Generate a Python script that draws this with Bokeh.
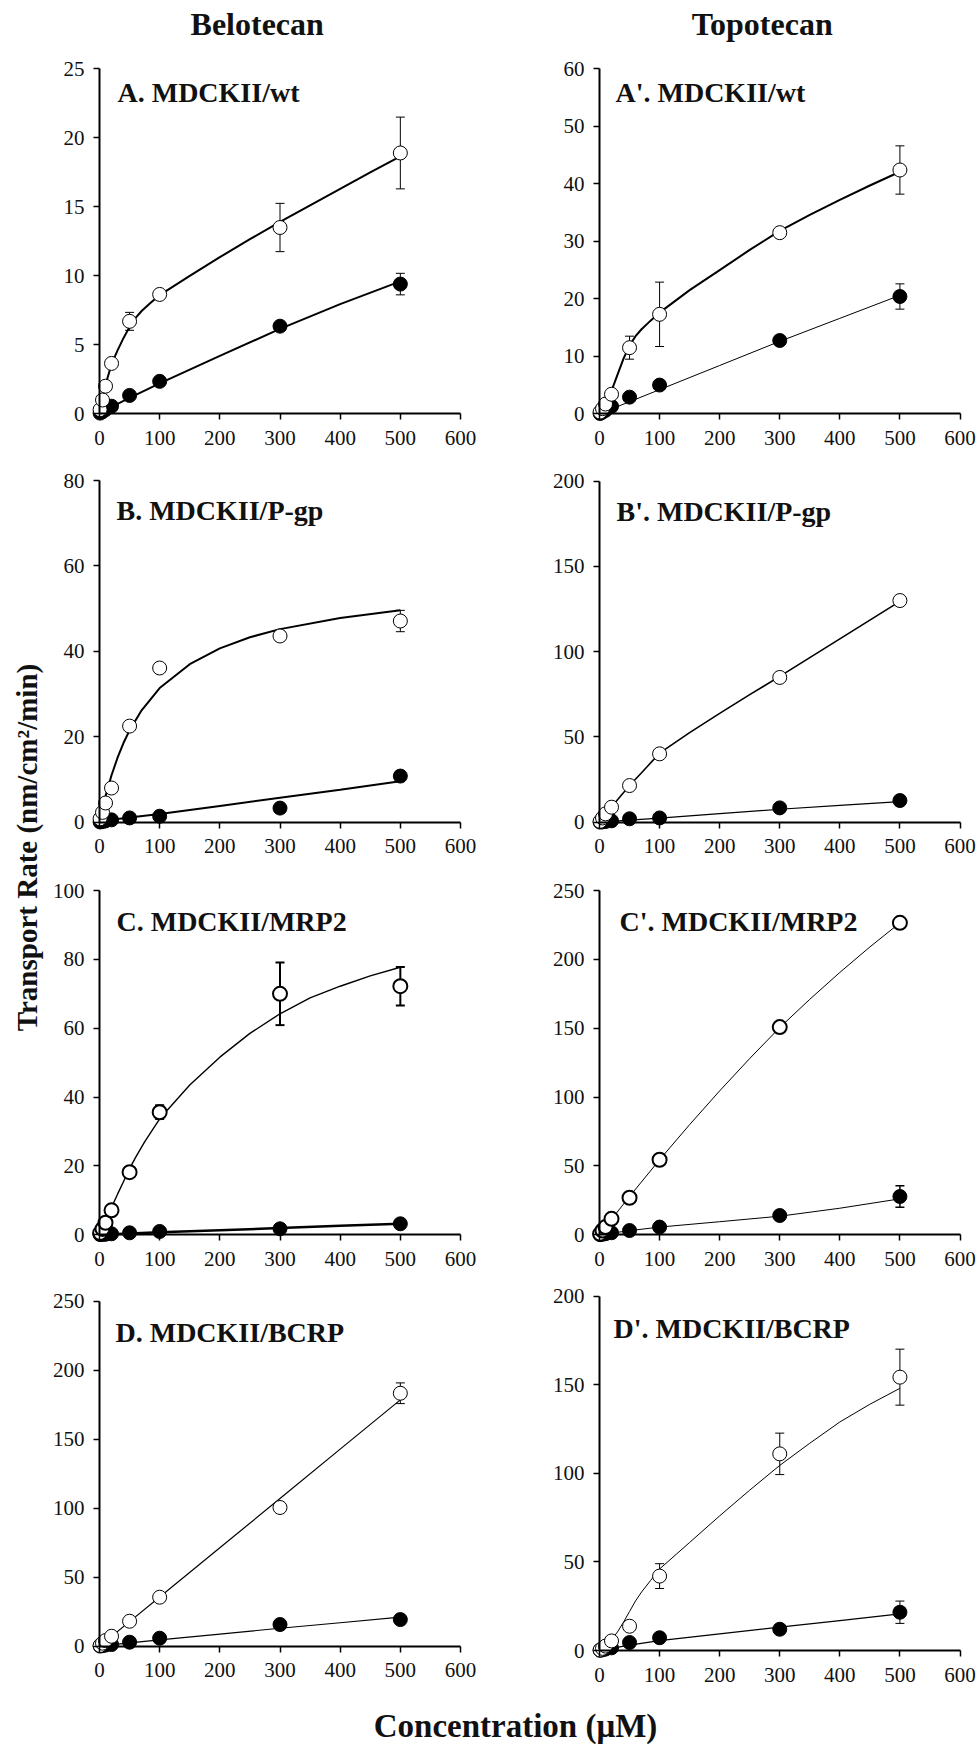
from math import pi
from bokeh.plotting import figure
from bokeh.models import Range1d, FixedTicker, Whisker, TeeHead, ColumnDataSource, Label
from bokeh.layouts import row, column
from bokeh.embed import file_html
from bokeh.resources import INLINE
from bokeh.core.properties import value

FONT = "Liberation Serif"

# ---------------- data ----------------
CONC = [1, 5, 10, 20, 50, 100, 300, 500]
XTICKS = [0, 100, 200, 300, 400, 500, 600]

COL_TITLES = ["Belotecan", "Topotecan"]
Y_LABEL = "Transport Rate (nm/cm²/min)"
X_LABEL = "Concentration (μM)"

# Panel A  Belotecan MDCKII/wt
A_open = [0.3, 1.0, 2.0, 3.65, 6.7, 8.65, 13.5, 18.9]
A_open_err = [0, 0, 0, 0, 0.65, 0, 1.75, 2.6]
A_fill = [0.05, 0.15, 0.3, 0.55, 1.33, 2.35, 6.35, 9.4]
A_fill_err = [0, 0, 0, 0, 0, 0, 0, 0.78]
A_open_fit_x = [0, 2, 5, 10, 20, 30, 40, 50, 60, 70, 85, 100, 150, 200, 250, 300, 350, 400, 450, 500]
A_open_fit_y = [0.15, 0.6, 1.2, 2.1, 3.6, 4.6, 5.5, 6.3, 6.95, 7.45, 8.05, 8.6, 10.0, 11.35, 12.65, 13.9, 15.1, 16.3, 17.5, 18.65]
A_fill_fit_x = [0, 20, 50, 100, 200, 300, 400, 500]
A_fill_fit_y = [0.0, 0.5, 1.15, 2.2, 4.2, 6.15, 7.95, 9.6]
A_yticks = [0, 5, 10, 15, 20, 25]

# Panel A'  Topotecan MDCKII/wt
Ap_open = [0.3, 0.9, 1.7, 3.4, 11.5, 17.3, 31.5, 42.4]
Ap_open_err = [0, 0, 0, 0, 2.0, 5.6, 0, 4.2]
Ap_fill = [0.05, 0.3, 0.6, 1.3, 2.9, 5.0, 12.75, 20.4]
Ap_fill_err = [0, 0, 0, 0, 0, 0, 0, 2.2]
Ap_open_fit_x = [0, 5, 10, 20, 30, 40, 50, 60, 70, 85, 100, 150, 200, 250, 300, 350, 400, 450, 500]
Ap_open_fit_y = [0.1, 0.9, 1.9, 4.0, 6.8, 9.6, 11.9, 13.5, 14.7, 16.2, 17.6, 21.5, 25.0, 28.5, 31.8, 34.6, 37.2, 39.7, 42.1]
Ap_fill_fit_x = [0, 50, 100, 200, 300, 400, 500]
Ap_fill_fit_y = [0, 2.1, 4.2, 8.4, 12.6, 16.6, 20.6]
Ap_yticks = [0, 10, 20, 30, 40, 50, 60]

# Panel B  Belotecan MDCKII/P-gp
B_open = [0.8, 2.3, 4.5, 8.0, 22.5, 36.1, 43.6, 47.1]
B_open_err = [0, 0, 0, 0, 0, 0, 0, 2.5]
B_fill = [0.05, 0.15, 0.3, 0.55, 1.0, 1.4, 3.3, 10.8]
B_fill_err = [0, 0, 0, 0, 0, 0, 0, 1.3]
B_open_fit_x = [0, 5, 10, 20, 30, 40, 50, 70, 100, 150, 200, 250, 300, 400, 500]
B_open_fit_y = [0, 3.2, 6.1, 11.0, 15.1, 18.6, 21.5, 26.2, 31.4, 37.0, 40.7, 43.3, 45.2, 47.8, 49.6]
B_fill_fit_x = [0, 20, 50, 100, 200, 300, 400, 500]
B_fill_fit_y = [0.3, 0.6, 1.1, 1.9, 3.8, 5.7, 7.6, 9.6]
B_yticks = [0, 20, 40, 60, 80]

# Panel B'  Topotecan MDCKII/P-gp
Bp_open = [0.5, 2.5, 4.9, 8.8, 21.5, 40.1, 84.9, 130.0]
Bp_open_err = [0, 0, 0, 0, 0, 0, 0, 0]
Bp_fill = [0.05, 0.2, 0.4, 0.8, 2.0, 2.5, 8.4, 12.7]
Bp_fill_err = [0, 0, 0, 0, 0, 0, 0, 0]
Bp_open_fit_x = [0, 10, 20, 30, 50, 70, 100, 150, 200, 250, 300, 350, 400, 450, 500]
Bp_open_fit_y = [0, 4.8, 9.0, 13.2, 21.5, 29.0, 40.5, 52.5, 63.8, 74.8, 85.5, 96.5, 107.5, 118.5, 129.5]
Bp_fill_fit_x = [0, 50, 100, 200, 300, 400, 500]
Bp_fill_fit_y = [0, 1.2, 2.4, 5.0, 7.6, 9.9, 12.1]
Bp_yticks = [0, 50, 100, 150, 200]

# Panel C  Belotecan MDCKII/MRP2
C_open = [0.5, 1.7, 3.5, 7.1, 18.2, 35.6, 70.0, 72.2]
C_open_err = [0, 0, 0, 0, 0, 2.0, 9.1, 5.6]
C_fill = [0.05, 0.1, 0.15, 0.3, 0.58, 0.97, 1.74, 3.2]
C_fill_err = [0, 0, 0, 0, 0, 0, 0, 0]
C_open_fit_x = [0, 5, 10, 20, 30, 40, 50, 60, 75, 100, 150, 200, 250, 300, 350, 400, 450, 500]
C_open_fit_y = [0, 1.8, 3.8, 8.0, 11.8, 15.5, 19.2, 22.5, 27.0, 33.7, 43.5, 51.6, 58.5, 64.2, 68.8, 72.2, 75.2, 77.7]
C_fill_fit_x = [0, 50, 100, 200, 300, 400, 500]
C_fill_fit_y = [0, 0.4, 0.75, 1.35, 1.95, 2.6, 3.2]
C_yticks = [0, 20, 40, 60, 80, 100]

# Panel C'  Topotecan MDCKII/MRP2
Cp_open = [0.7, 3.1, 5.6, 11.6, 26.9, 54.5, 150.8, 226.5]
Cp_open_err = [0, 0, 0, 0, 0, 0, 0, 0]
Cp_fill = [0.1, 0.4, 0.8, 1.5, 3.1, 5.6, 14.0, 27.8]
Cp_fill_err = [0, 0, 0, 0, 0, 0, 0, 7.8]
Cp_open_fit_x = [0, 10, 20, 50, 100, 150, 200, 250, 300, 350, 400, 450, 500]
Cp_open_fit_y = [0, 5.6, 11.3, 27.8, 54.5, 80.0, 104.5, 128.0, 150.5, 171.0, 190.5, 209.0, 226.5]
Cp_fill_fit_x = [0, 50, 100, 200, 300, 400, 500]
Cp_fill_fit_y = [0, 3.0, 5.6, 9.5, 13.5, 19.3, 26.1]
Cp_yticks = [0, 50, 100, 150, 200, 250]

# Panel D  Belotecan MDCKII/BCRP
D_open = [0.5, 2.2, 4.1, 7.2, 18.1, 35.5, 100.5, 183.3]
D_open_err = [0, 0, 0, 0, 0, 0, 0, 7.5]
D_fill = [0.1, 0.4, 0.8, 1.2, 2.9, 5.8, 15.7, 19.3]
D_fill_err = [0, 0, 0, 0, 0, 0, 0, 0]
D_open_fit_x = [0, 50, 100, 200, 300, 400, 500]
D_open_fit_y = [0, 17.8, 35.6, 71.3, 107.0, 142.8, 178.5]
D_fill_fit_x = [0, 50, 100, 200, 300, 400, 500]
D_fill_fit_y = [0, 2.4, 4.6, 8.8, 13.0, 17.0, 21.0]
D_yticks = [0, 50, 100, 150, 200, 250]

# Panel D'  Topotecan MDCKII/BCRP
Dp_open = [0.3, 1.2, 2.5, 5.4, 13.7, 42.0, 111.0, 154.3]
Dp_open_err = [0, 0, 0, 0, 0, 7.0, 11.7, 15.8]
Dp_fill = [0.1, 0.4, 0.8, 1.5, 4.5, 7.2, 12.0, 21.6]
Dp_fill_err = [0, 0, 0, 0, 2.0, 0, 0, 6.3]
Dp_open_fit_x = [0, 10, 20, 30, 40, 50, 60, 70, 85, 100, 150, 200, 250, 300, 350, 400, 450, 500]
Dp_open_fit_y = [0, 2.5, 6.0, 10.5, 16.0, 22.0, 28.0, 33.0, 39.5, 46.0, 61.0, 76.0, 90.5, 104.5, 117.0, 129.0, 139.0, 148.0]
Dp_fill_fit_x = [0, 20, 50, 100, 200, 300, 400, 500]
Dp_fill_fit_y = [0, 1.2, 3.0, 5.6, 9.4, 13.2, 16.9, 20.7]
Dp_yticks = [0, 50, 100, 150, 200]

PANEL_LABELS = ["A. MDCKII/wt", "A'. MDCKII/wt", "B. MDCKII/P-gp", "B'. MDCKII/P-gp",
                "C. MDCKII/MRP2", "C'. MDCKII/MRP2", "D. MDCKII/BCRP", "D'. MDCKII/BCRP"]

# ---------------- layout (page pixels) ----------------
TOTAL_W, TOTAL_H = 980, 1744
YLAB_W = 48
TITLE_H = 48
COL_BOX = [(48, 530), (530, 980)]
ROW_BOX = [(48, 463), (463, 873), (873, 1284), (1284, 1696)]
COL_AXIS_X = [(99, 460), (599, 959.5)]            # page x of data 0 and 600
ROW_AXIS_Y = [[(413.3, 68.3), (413.3, 68.3)],      # page y of data 0 and ymax
              [(821.7, 480.0), (821.7, 480.7)],
              [(1234.3, 890.0), (1234.3, 890.0)],
              [(1645.7, 1300.7), (1650.0, 1295.7)]]
# label offset from the y-axis (px) and from the axis top to the text baseline (px)
LABEL_OFF = [[(18, 34), (16, 34)], [(17, 40), (17, 40)], [(17, 41), (20, 41)], [(16, 41), (14, 42)]]
BASE_SHIFT = 0.36   # em: rendered baseline sits this much below the anchor
# styles: open line width, filled line width, open circle outline, error bar width
STYLES = [[(2, 2, 1, 1), (2, 1, 1, 1)],
          [(2, 2, 1, 1), (1.6, 1.2, 1, 1)],
          [(1.4, 2.5, 2, 2), (1, 1, 2, 1.5)],
          [(1.2, 1.2, 1, 1), (1, 1.2, 1, 1)]]

PANELS = [
    [(A_open, A_open_err, A_fill, A_fill_err, A_open_fit_x, A_open_fit_y, A_fill_fit_x, A_fill_fit_y, A_yticks),
     (Ap_open, Ap_open_err, Ap_fill, Ap_fill_err, Ap_open_fit_x, Ap_open_fit_y, Ap_fill_fit_x, Ap_fill_fit_y, Ap_yticks)],
    [(B_open, B_open_err, B_fill, B_fill_err, B_open_fit_x, B_open_fit_y, B_fill_fit_x, B_fill_fit_y, B_yticks),
     (Bp_open, Bp_open_err, Bp_fill, Bp_fill_err, Bp_open_fit_x, Bp_open_fit_y, Bp_fill_fit_x, Bp_fill_fit_y, Bp_yticks)],
    [(C_open, C_open_err, C_fill, C_fill_err, C_open_fit_x, C_open_fit_y, C_fill_fit_x, C_fill_fit_y, C_yticks),
     (Cp_open, Cp_open_err, Cp_fill, Cp_fill_err, Cp_open_fit_x, Cp_open_fit_y, Cp_fill_fit_x, Cp_fill_fit_y, Cp_yticks)],
    [(D_open, D_open_err, D_fill, D_fill_err, D_open_fit_x, D_open_fit_y, D_fill_fit_x, D_fill_fit_y, D_yticks),
     (Dp_open, Dp_open_err, Dp_fill, Dp_fill_err, Dp_open_fit_x, Dp_open_fit_y, Dp_fill_fit_x, Dp_fill_fit_y, Dp_yticks)],
]


def add_err(p, xs, ys, errs, lw):
    bx = [x for x, e in zip(xs, errs) if e > 0]
    up = [y + e for y, e in zip(ys, errs) if e > 0]
    lo = [y - e for y, e in zip(ys, errs) if e > 0]
    if not bx:
        return
    src = ColumnDataSource(dict(x=bx, upper=up, lower=lo))
    w = Whisker(source=src, base="x", upper="upper", lower="lower", dimension="height",
                line_color="black", line_width=lw, level="underlay",
                upper_head=TeeHead(size=9, line_color="black", line_width=lw),
                lower_head=TeeHead(size=9, line_color="black", line_width=lw))
    p.add_layout(w)


def make_panel(r, c, label):
    (o, oe, f, fe, ofx, ofy, ffx, ffy, yticks) = PANELS[r][c]
    ymax = yticks[-1]
    fl, fr = COL_BOX[c]
    ft, fb = ROW_BOX[r]
    x0px, x1px = COL_AXIS_X[c]
    y0px, ytpx = ROW_AXIS_Y[r][c]
    ppx = (x1px - x0px) / 600.0
    ppy = (y0px - ytpx) / ymax
    p = figure(width=fr - fl, height=fb - ft, title=None,
               x_range=Range1d((fl - x0px) / ppx, (fr - x0px) / ppx),
               y_range=Range1d((y0px - fb) / ppy, (y0px - ft) / ppy),
               min_border=0, min_border_left=0, min_border_right=0,
               min_border_top=0, min_border_bottom=0,
               output_backend="svg", toolbar_location=None)
    p.xgrid.visible = False
    p.ygrid.visible = False
    p.outline_line_color = None
    p.background_fill_color = "white"
    p.border_fill_color = "white"
    for ax, bounds, ticks, standoff in ((p.xaxis[0], (0, 600), XTICKS, 11),
                                        (p.yaxis[0], (0, ymax), yticks, 9)):
        ax.fixed_location = 0
        ax.bounds = bounds
        ax.ticker = FixedTicker(ticks=ticks)
        ax.axis_line_width = 2
        ax.axis_line_color = "black"
        ax.major_tick_line_width = 1.5
        ax.major_tick_line_color = "black"
        ax.major_tick_out = 6
        ax.major_tick_in = 0
        ax.minor_tick_out = 0
        ax.minor_tick_in = 0
        ax.major_label_text_font = FONT
        ax.major_label_text_font_size = "21px"
        ax.major_label_text_color = "#111111"
        ax.major_label_standoff = standoff
    olw, flw, clw, elw = STYLES[r][c]
    add_err(p, CONC, o, oe, elw)
    add_err(p, CONC, f, fe, elw)
    p.line(ffx, ffy, line_color="black", line_width=flw)
    p.line(ofx, ofy, line_color="black", line_width=olw)
    p.scatter(CONC, f, marker="circle", size=14, fill_color="black", line_color="black", line_width=1)
    p.scatter(CONC, o, marker="circle", size=14, fill_color="white", line_color="black", line_width=clw)
    dx, dy = LABEL_OFF[r][c]
    dy = dy - BASE_SHIFT * 28
    p.add_layout(Label(x=dx / ppx, y=ymax - dy / ppy, text=label, text_font=FONT,
                       text_font_size="28px", text_font_style="bold", text_color="#111111",
                       text_align="left", text_baseline="alphabetic"))
    return p


def text_fig(w, h):
    p = figure(width=w, height=h, x_range=Range1d(0, w), y_range=Range1d(0, h), title=None,
               x_axis_type=None, y_axis_type=None, min_border=0,
               min_border_left=0, min_border_right=0, min_border_top=0, min_border_bottom=0,
               output_backend="svg", toolbar_location=None)
    p.grid.visible = False
    p.outline_line_color = None
    return p


# column titles (baseline at page y 35)
tf = text_fig(TOTAL_W - YLAB_W, TITLE_H)
tb = TITLE_H - (35 - BASE_SHIFT * 32)
tf.text(x=[256.7 - YLAB_W, 761.7 - YLAB_W], y=[tb, tb], text=COL_TITLES,
        text_font=value(FONT), text_font_size="32px", text_font_style="bold",
        text_color="#111111", text_align="center", text_baseline="alphabetic")

# y label (baseline at page x 36.7, centred at page y 847)
yf = text_fig(YLAB_W, TOTAL_H)
yf.text(x=[36.7 - BASE_SHIFT * 29], y=[TOTAL_H - 847], text=[Y_LABEL], angle=pi / 2,
        text_font=value(FONT), text_font_size="29px", text_font_style="bold",
        text_color="#111111", text_align="center", text_baseline="alphabetic")

# x label (baseline at page y 1737, centred at page x 515)
XLAB_H = TOTAL_H - ROW_BOX[-1][1]
xf = text_fig(TOTAL_W - YLAB_W, XLAB_H)
xf.text(x=[515 - YLAB_W], y=[TOTAL_H - (1737 - BASE_SHIFT * 33)], text=[X_LABEL],
        text_font=value(FONT), text_font_size="33px", text_font_style="bold",
        text_color="#111111", text_align="center", text_baseline="alphabetic")

rows = []
k = 0
for r in range(4):
    figs = []
    for c in range(2):
        figs.append(make_panel(r, c, PANEL_LABELS[k]))
        k += 1
    rows.append(row(*figs))

layout = row(yf, column(tf, *rows, xf))

open("out.html", "w").write(file_html(layout, INLINE))
